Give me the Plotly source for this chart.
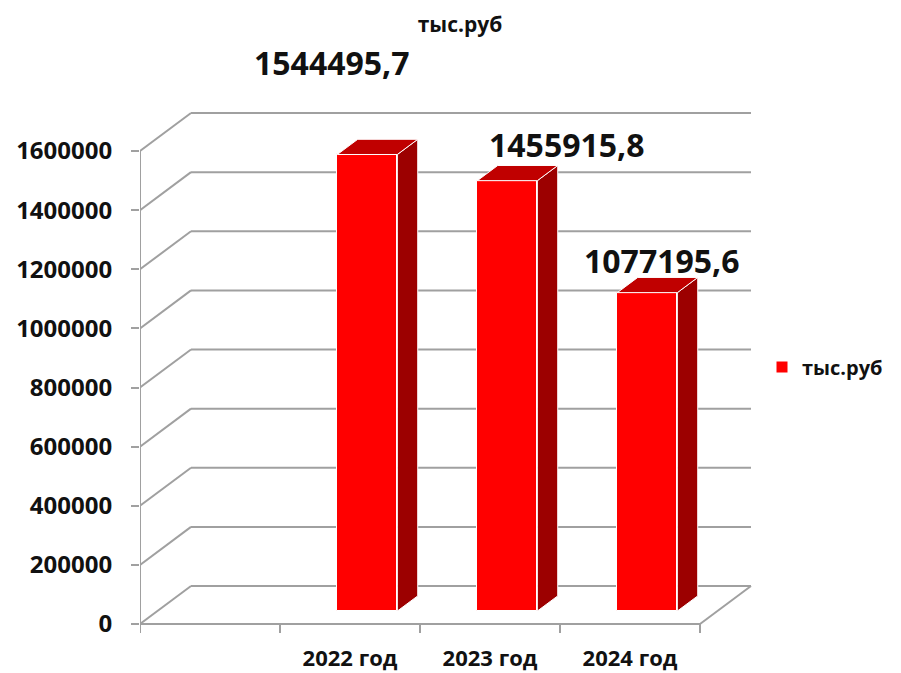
import plotly.graph_objects as go

# ---- data ----
categories = ["2022 год", "2023 год", "2024 год"]
values = [1544495.7, 1455915.8, 1077195.6]
value_labels = ["1544495,7", "1455915,8", "1077195,6"]
y_ticks = [0, 200000, 400000, 600000, 800000, 1000000, 1200000, 1400000, 1600000]
series_name = "тыс.руб"
title_text = "тыс.руб"

# ---- layout / pseudo-3D geometry (styling constants) ----
PAGE_OFF = 8                 # browser default body margin
FIG_W, FIG_H = 901 - PAGE_OFF, 673 - PAGE_OFF
PX_PER_SLOT = 140.0          # pixels per category slot on the front plane
YMAX = 1600000.0
PX_Y = 473.0                 # pixels for 0..YMAX on the front plane
K = YMAX / PX_Y              # value units per pixel
ZERO_PX = 624 - PAGE_OFF     # pixel row of value 0 on the front plane
DEPTH_PX_X, DEPTH_PX_Y = 51.0, 38.0   # full wall depth in pixels
D0, D1 = 0.34, 0.74          # bar depth range (fraction of wall depth)
BAR_W = 60.0 / PX_PER_SLOT
slots = [1, 2, 3]            # first slot is empty, like the reference


def ddx(d):
    return DEPTH_PX_X * d / PX_PER_SLOT


def ddy(d):
    return DEPTH_PX_Y * d * K


GRID = "#a0a0a0"
FRONT = "#ff0000"
SIDE = "#9c0000"
TOP = "#c00000"
FONT = "Open Sans"
TXT = "#111111"

fig = go.Figure()

# front faces as real bars
fig.add_trace(go.Bar(
    x=[s + 0.5 + ddx(D0) for s in slots],
    y=values,
    base=[ddy(D0)] * len(values),
    width=BAR_W,
    marker=dict(color=FRONT, line=dict(color="white", width=1)),
    name=series_name,
    showlegend=True,
    hoverinfo="skip",
))

# side and top faces
for s, v in zip(slots, values):
    xl0 = s + 0.5 - BAR_W / 2 + ddx(D0)
    xr0 = s + 0.5 + BAR_W / 2 + ddx(D0)
    xl1 = s + 0.5 - BAR_W / 2 + ddx(D1)
    xr1 = s + 0.5 + BAR_W / 2 + ddx(D1)
    b0, b1 = ddy(D0), ddy(D1)
    fig.add_trace(go.Scatter(
        x=[xr0, xr0, xr1, xr1, xr0], y=[b0, b0 + v, b1 + v, b1, b0],
        fill="toself", fillcolor=SIDE, mode="lines",
        line=dict(color="white", width=1), showlegend=False, hoverinfo="skip"))
    fig.add_trace(go.Scatter(
        x=[xl0, xr0, xr1, xl1, xl0], y=[b0 + v, b0 + v, b1 + v, b1 + v, b0 + v],
        fill="toself", fillcolor=TOP, mode="lines",
        line=dict(color="white", width=1), showlegend=False, hoverinfo="skip"))

# walls, floor, gridlines (drawn below the traces)
n_slots = 4
shapes = []
for v in y_ticks:
    shapes.append(dict(type="line", xref="x", yref="y", layer="below",
                       x0=ddx(1), y0=v + ddy(1), x1=n_slots + ddx(1), y1=v + ddy(1),
                       line=dict(color=GRID, width=2)))
    shapes.append(dict(type="line", xref="x", yref="y", layer="below",
                       x0=0, y0=v, x1=ddx(1), y1=v + ddy(1),
                       line=dict(color=GRID, width=2)))
# floor front and right edges
shapes.append(dict(type="line", xref="x", yref="y", layer="below",
                   x0=0, y0=0, x1=n_slots, y1=0, line=dict(color=GRID, width=2)))
shapes.append(dict(type="line", xref="x", yref="y", layer="below",
                   x0=n_slots, y0=0, x1=n_slots + ddx(1), y1=ddy(1),
                   line=dict(color=GRID, width=2)))
# vertical axis line
shapes.append(dict(type="line", xref="x", yref="y", layer="below",
                   x0=0, y0=-9 * K, x1=0, y1=YMAX, line=dict(color=GRID, width=2)))
# category tick marks
for i in range(1, n_slots + 1):
    shapes.append(dict(type="line", xref="x", yref="y", layer="below",
                       x0=i, y0=0, x1=i, y1=-9 * K, line=dict(color=GRID, width=2)))

# value labels (manually placed like the reference)
label_shift = [(-35, 92), (60, 36), (15, 32)]
annotations = []
for s, v, t, (sx, sy) in zip(slots, values, value_labels, label_shift):
    annotations.append(dict(
        x=s + 0.5 + ddx(D0), y=v + ddy(D0), xref="x", yref="y", text=t,
        showarrow=False, xshift=sx, yshift=sy,
        font=dict(family=FONT, size=32, color=TXT, weight="bold")))

PLOT_L, PLOT_R = 140 - PAGE_OFF, 780 - PAGE_OFF
PLOT_T, PLOT_B = 20 - PAGE_OFF, 640 - PAGE_OFF
x_range = [0, (PLOT_R - PLOT_L) / PX_PER_SLOT]
y_range = [(ZERO_PX - PLOT_B) * K, (ZERO_PX - PLOT_T) * K]

fig.update_layout(
    width=FIG_W, height=FIG_H, autosize=False,
    margin=dict(l=PLOT_L, r=FIG_W - PLOT_R, t=PLOT_T, b=FIG_H - PLOT_B, autoexpand=False),
    paper_bgcolor="white", plot_bgcolor="white",
    shapes=shapes, annotations=annotations,
    title=dict(text=title_text, x=(460 - PAGE_OFF) / FIG_W, xanchor="center",
               y=1 - (25 - PAGE_OFF) / FIG_H, yanchor="middle", yref="container",
               font=dict(family=FONT, size=21, color=TXT, weight="bold")),
    xaxis=dict(range=x_range, showgrid=False, zeroline=False, showline=False,
               automargin=False, ticklabelstandoff=3,
               tickmode="array", tickvals=[s + 0.5 for s in slots], ticktext=categories,
               ticks="", tickfont=dict(family=FONT, size=22, color=TXT, weight="bold")),
    yaxis=dict(range=y_range, showgrid=False, zeroline=False, showline=False,
               automargin=False,
               tickmode="array", tickvals=y_ticks, ticktext=[str(v) for v in y_ticks],
               ticks="outside", ticklen=8, tickwidth=2, tickcolor=GRID,
               ticklabelstandoff=14,
               tickfont=dict(family=FONT, size=24, color=TXT, weight="bold")),
    legend=dict(x=(762 - 140) / (PLOT_R - PLOT_L), xanchor="left",
                y=(640 - 367) / (PLOT_B - PLOT_T), yanchor="middle",
                font=dict(family=FONT, size=20, color=TXT, weight="bold"),
                bgcolor="rgba(0,0,0,0)"),
    bargap=0,
)

fig.write_html("out.html")
